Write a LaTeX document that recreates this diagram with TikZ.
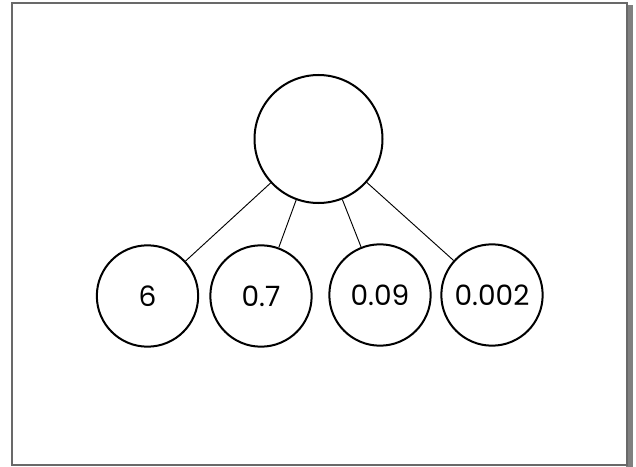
\documentclass[tikz,border=0pt]{standalone}
\usepackage{fontspec}
\setmainfont{Poppins}
\usetikzlibrary{positioning}
\definecolor{PvFrame}{RGB}{105,105,105}
\definecolor{PvShadow}{RGB}{128,128,128}
\tikzset{
  pv/whole/.style={
    circle,
    draw=black,
    line width=1.5pt,
    fill=white,
    minimum size=96pt,
    inner sep=0pt
  },
  pv/part/.style={
    circle,
    draw=black,
    line width=1.5pt,
    fill=white,
    minimum size=76pt,
    inner sep=0pt,
    font=\fontsize{21}{25}\selectfont
  },
  pv/link/.style={draw=black, line width=0.7pt},
  pv/frame/.style={draw=PvFrame, line width=1.2pt}
}

\begin{document}
\begin{tikzpicture}[x=0.75pt,y=-0.75pt]
  \useasboundingbox (0,0) rectangle (636,467);
  \fill[PvShadow] (626,5) rectangle (633,467);
  \draw[pv/frame] (12,3) rectangle (627,465);
  \node[pv/whole] (whole) at (318.5,139) {};
  \node[pv/part] (ones) at (147.5,296) {6};
  \node[pv/part] (tenths) at (261,296) {0.7};
  \node[pv/part] (hundredths) at (380,295) {0.09};
  \node[pv/part] (thousandths) at (492,295) {0.002};
  \draw[pv/link] (whole) -- (ones);
  \draw[pv/link] (whole) -- (tenths);
  \draw[pv/link] (whole) -- (hundredths);
  \draw[pv/link] (whole) -- (thousandths);
\end{tikzpicture}
\end{document}
